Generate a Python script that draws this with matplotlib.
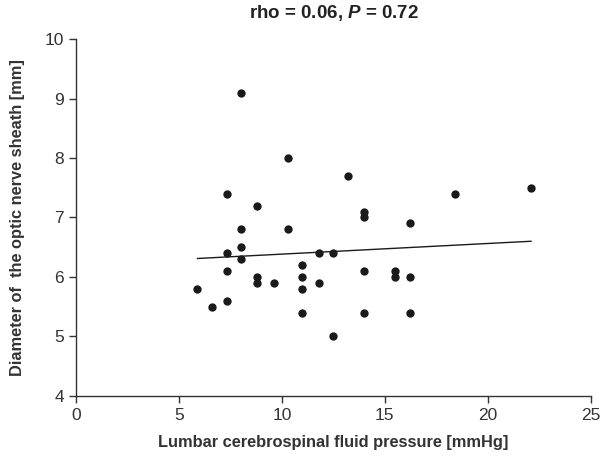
import numpy as np
import matplotlib
matplotlib.use("Agg")
import matplotlib.pyplot as plt

plt.rcParams['font.family'] = ['Liberation Sans', 'DejaVu Sans']
plt.rcParams['mathtext.fontset'] = 'custom'
plt.rcParams['mathtext.it'] = 'Liberation Sans:bold:italic'
plt.rcParams['mathtext.rm'] = 'Liberation Sans:bold'

# lumbar CSF pressure [mmHg] and ONSD [mm]
csf_pressure = [5.9, 6.6, 7.35, 7.35, 7.35, 7.35, 8.0, 8.0, 8.0, 8.0,
                8.8, 8.8, 8.8, 9.6, 10.3, 10.3, 11.0, 11.0, 11.0, 11.0,
                11.8, 11.8, 12.5, 12.5, 13.2, 14.0, 14.0, 14.0, 14.0,
                15.5, 15.5, 16.2, 16.2, 16.2, 18.4, 22.1]
onsd = [5.8, 5.5, 7.4, 6.4, 6.1, 5.6, 9.1, 6.8, 6.5, 6.3,
        7.2, 6.0, 5.9, 5.9, 8.0, 6.8, 6.2, 6.0, 5.8, 5.4,
        6.4, 5.9, 6.4, 5.0, 7.7, 7.1, 7.0, 6.1, 5.4,
        6.1, 6.0, 6.9, 6.0, 5.4, 7.4, 7.5]
# trend line end points
trend_x = [5.9, 22.1]
trend_y = [6.31, 6.60]

fig = plt.figure(figsize=(6.04, 4.59), dpi=100)
ax = fig.add_axes([0.1258, 0.1379, 0.8522, 0.7765])

ax.scatter(csf_pressure, onsd, s=36, color='#1a1a1a', zorder=3, linewidths=0)
ax.plot(trend_x, trend_y, color='#1a1a1a', lw=1.0)

ax.set_xlim(0, 25)
ax.set_ylim(4, 10)
ax.set_xticks([0, 5, 10, 15, 20, 25])
ax.set_yticks([4, 5, 6, 7, 8, 9, 10])

for side in ['top', 'right']:
    ax.spines[side].set_visible(False)
for side in ['left', 'bottom']:
    ax.spines[side].set_color('#333333')
    ax.spines[side].set_linewidth(1.0)
ax.tick_params(direction='out', length=5, width=1.0, colors='#333333',
               labelsize=12.5, labelcolor='#333333')

ax.set_xlabel('Lumbar cerebrospinal fluid pressure [mmHg]', fontsize=11.8,
              fontweight='bold', color='#333333', labelpad=9)
ax.set_ylabel('Diameter of  the optic nerve sheath [mm]', fontsize=11.8,
              fontweight='bold', color='#333333', labelpad=14)
ax.set_title(r'rho = 0.06, $P$ = 0.72', fontsize=13.5, fontweight='bold',
             color='#222222', pad=15)

fig.savefig('out.png', dpi=100)
